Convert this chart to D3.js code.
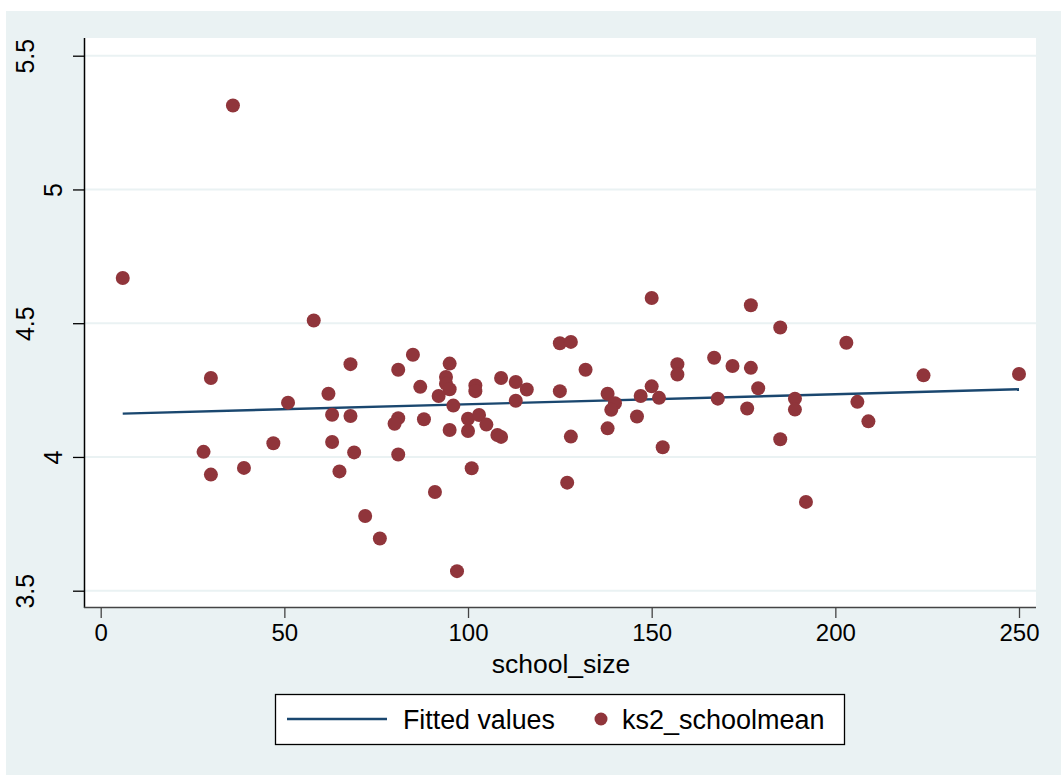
<!DOCTYPE html>
<html>
<head>
<meta charset="utf-8">
<script src="https://cdn.jsdelivr.net/npm/d3@7"></script>
<style>
  body { margin: 0; background: #fff; }
  text { font-family: Arial, "Liberation Sans", sans-serif; fill: #000; }
</style>
</head>
<body>
<svg id="chart"></svg>
<script>
// scatter of school size vs KS2 school mean, with linear fit
const schoolSize = [6, 36, 58, 68, 30, 62, 51, 63, 68, 47, 63, 28, 69, 30, 39, 65, 72, 76,
  150, 85, 81, 95, 94, 94, 95, 87, 92, 96, 102, 102, 109, 113, 116, 113, 81, 80, 88, 95,
  100, 103, 105, 100, 108, 109, 81, 101, 91, 97, 125, 128, 132, 125, 128, 127, 138, 140,
  139, 138, 147, 150, 152, 146, 153, 157, 157, 177, 185, 203, 167, 172, 177, 224, 250,
  179, 168, 176, 189, 189, 206, 209, 185, 192];
const ks2Mean = [4.669, 5.314, 4.510, 4.347, 4.295, 4.236, 4.203, 4.158, 4.153, 4.051, 4.056,
  4.019, 4.017, 3.934, 3.959, 3.946, 3.779, 3.695, 4.594, 4.382, 4.326, 4.349, 4.299, 4.274,
  4.253, 4.262, 4.228, 4.192, 4.267, 4.246, 4.295, 4.280, 4.252, 4.210, 4.145, 4.124, 4.141,
  4.101, 4.143, 4.157, 4.121, 4.097, 4.082, 4.075, 4.009, 3.958, 3.869, 3.573, 4.425, 4.430,
  4.326, 4.246, 4.076, 3.904, 4.236, 4.201, 4.176, 4.107, 4.228, 4.264, 4.221, 4.151, 4.036,
  4.347, 4.308, 4.567, 4.484, 4.427, 4.371, 4.340, 4.333, 4.305, 4.310, 4.257, 4.218, 4.181,
  4.218, 4.177, 4.206, 4.133, 4.066, 3.832];
const fitX = [6, 250];
const fitY = [4.162, 4.253];
const xTicks = [0, 50, 100, 150, 200, 250];
const yTicks = [3.5, 4, 4.5, 5, 5.5];
const legendLabels = ["Fitted values", "ks2_schoolmean"];

const width = 1061, height = 775;
const plot = { left: 84, right: 1036, top: 38, bottom: 608 };
const bg = "#eaf2f3", lineColor = "#1a476f", markerColor = "#90353b";

const svg = d3.select("#chart").attr("width", width).attr("height", height);

svg.append("rect")
  .attr("x", 6).attr("y", 11).attr("width", width - 6).attr("height", height - 11)
  .attr("fill", bg);
svg.append("rect")
  .attr("x", plot.left).attr("y", plot.top)
  .attr("width", plot.right - plot.left).attr("height", plot.bottom - plot.top)
  .attr("fill", "#fff");

const x = d3.scaleLinear().domain([0, 250]).range([100.7, 1019]);
const y = d3.scaleLinear().domain([3.5, 5.5]).range([590.7, 55.7]);

// gridlines
svg.append("g")
  .selectAll("line")
  .data(yTicks)
  .join("line")
  .attr("x1", plot.left).attr("x2", plot.right)
  .attr("y1", d => y(d)).attr("y2", d => y(d))
  .attr("stroke", bg).attr("stroke-width", 2);

// y axis
const yAxis = svg.append("g")
  .attr("transform", `translate(${plot.left},0)`)
  .call(d3.axisLeft(y).tickValues(yTicks).tickSize(11).tickFormat(d3.format("")));
yAxis.select(".domain").remove();
yAxis.selectAll(".tick line").attr("stroke", "#000").attr("stroke-width", 1.3);
yAxis.selectAll(".tick text")
  .attr("font-size", 25)
  .attr("text-anchor", "middle")
  .attr("dy", 0)
  .attr("x", null)
  .attr("transform", function (d) {
    const s = d3.format("")(d);
    return `translate(${-22 - (s.length - 1) * 14},0) rotate(-90)`;
  });
svg.append("line")
  .attr("x1", plot.left + 0.5).attr("x2", plot.left + 0.5)
  .attr("y1", plot.top).attr("y2", plot.bottom)
  .attr("stroke", "#000").attr("stroke-width", 1.5);

// x axis
const xAxis = svg.append("g")
  .attr("transform", `translate(0,${plot.bottom})`)
  .call(d3.axisBottom(x).tickValues(xTicks).tickSize(10).tickPadding(6));
xAxis.select(".domain").remove();
xAxis.selectAll(".tick line").attr("stroke", "#444").attr("stroke-width", 1.3);
xAxis.selectAll(".tick text").attr("font-size", 24).attr("dy", "0.71em");
svg.append("line")
  .attr("x1", plot.left).attr("x2", plot.right)
  .attr("y1", plot.bottom - 0.5).attr("y2", plot.bottom - 0.5)
  .attr("stroke", "#444").attr("stroke-width", 1.5);

svg.append("text")
  .attr("x", 561).attr("y", 673)
  .attr("text-anchor", "middle")
  .attr("font-size", 26.5)
  .text("school_size");

// fitted line
svg.append("path")
  .datum(d3.zip(fitX, fitY))
  .attr("fill", "none")
  .attr("stroke", lineColor)
  .attr("stroke-width", 2.4)
  .attr("d", d3.line().x(d => x(d[0])).y(d => y(d[1])));

// points
svg.append("g")
  .selectAll("circle")
  .data(d3.zip(schoolSize, ks2Mean))
  .join("circle")
  .attr("cx", d => x(d[0]))
  .attr("cy", d => y(d[1]))
  .attr("r", 7)
  .attr("fill", markerColor);

// legend
const legend = svg.append("g");
legend.append("rect")
  .attr("x", 275.5).attr("y", 694.5).attr("width", 569).attr("height", 50)
  .attr("fill", "#fff").attr("stroke", "#000").attr("stroke-width", 1.3);
legend.append("line")
  .attr("x1", 287).attr("x2", 387).attr("y1", 719).attr("y2", 719)
  .attr("stroke", lineColor).attr("stroke-width", 2.4);
legend.append("text")
  .attr("x", 403).attr("y", 729)
  .attr("font-size", 26.8)
  .text(legendLabels[0]);
legend.append("circle")
  .attr("cx", 601).attr("cy", 719).attr("r", 6.5)
  .attr("fill", markerColor);
legend.append("text")
  .attr("x", 622).attr("y", 729)
  .attr("font-size", 27)
  .text(legendLabels[1]);
</script>
</body>
</html>
